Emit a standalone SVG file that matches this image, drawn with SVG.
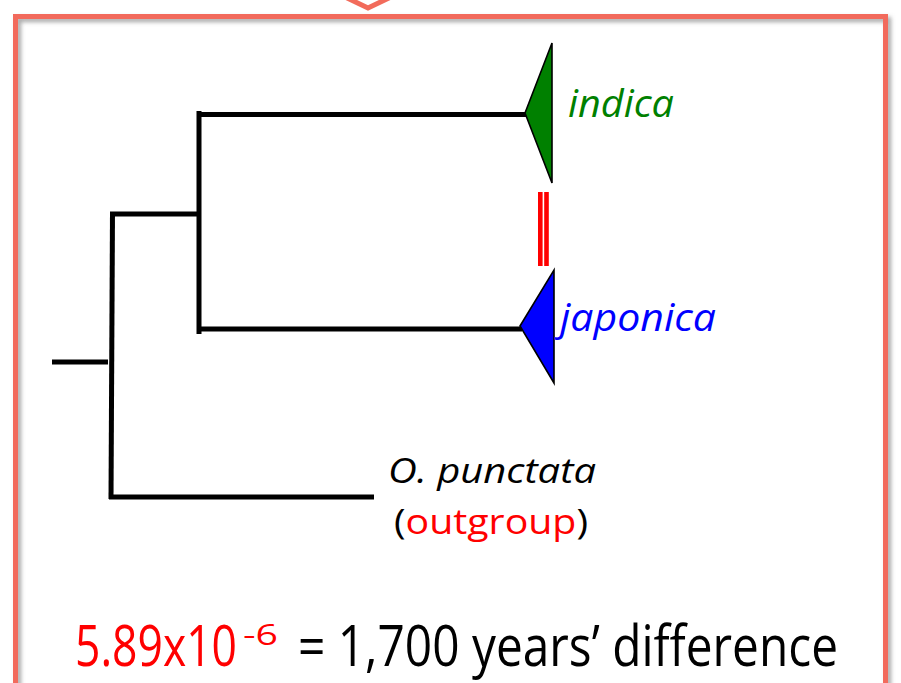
<svg xmlns="http://www.w3.org/2000/svg" width="901" height="683" viewBox="0 0 901 683">
  <style>
    .branch { stroke: #000; stroke-width: 5; fill: none; stroke-linecap: butt; }
    .clade { stroke: #000; stroke-width: 1.6; stroke-linejoin: miter; }
    .lbl { font-family: "Open Sans", "Noto Sans", "DejaVu Sans", sans-serif; }
    .it { font-style: italic; }
    .frame { fill: none; stroke: #F26B5B; stroke-width: 5; }
  </style>
  <defs>
    <filter id="shadow" x="-5%" y="-5%" width="110%" height="110%">
      <feDropShadow dx="3" dy="3" stdDeviation="2" flood-color="#808080" flood-opacity="0.7"/>
    </filter>
  </defs>

  <rect width="901" height="683" fill="#fff"/>

  <!-- callout frame with the tip of the arrow above it -->
  <g id="frame">
    <polyline points="343,-4 368,8 393,-4" fill="none" stroke="#F26B5B" stroke-width="5" stroke-linejoin="miter"/>
    <rect class="frame" x="15.5" y="16.5" width="870" height="720" filter="url(#shadow)"/>
  </g>

  <!-- tree branches -->
  <g id="connectors">
    <line class="branch" x1="52" y1="362" x2="108" y2="362"/>
    <line class="branch" x1="112.5" y1="212" x2="111" y2="499"/>
    <line class="branch" x1="110" y1="214" x2="199" y2="214"/>
    <line class="branch" x1="199" y1="111" x2="199" y2="334"/>
    <line class="branch" x1="197" y1="114.5" x2="527" y2="114.5"/>
    <line class="branch" x1="197" y1="329" x2="522" y2="329"/>
    <line class="branch" x1="109" y1="497" x2="374" y2="497"/>
  </g>

  <!-- divergence marker between the two clades -->
  <g id="divergence">
    <rect x="538" y="192" width="4.6" height="74" fill="#FF0000"/>
    <rect x="544.2" y="192" width="4.6" height="74" fill="#FF0000"/>
  </g>

  <g id="indica">
    <polygon class="clade" points="525,113 552,43 552,183" fill="#008000"/>
    <text class="lbl it" x="568" y="117" font-size="38" fill="#008000" textLength="106" lengthAdjust="spacingAndGlyphs">indica</text>
  </g>

  <g id="japonica">
    <polygon class="clade" points="520,326 554,270 554,383" fill="#0000FF"/>
    <text class="lbl it" x="560" y="331" font-size="38" fill="#0000FF" textLength="156" lengthAdjust="spacingAndGlyphs">japonica</text>
  </g>

  <g id="outgroup">
    <text class="lbl it" x="388" y="483" font-size="34" fill="#000" textLength="208" lengthAdjust="spacingAndGlyphs">O. punctata</text>
    <text class="lbl" x="394" y="534" font-size="34" fill="#000" textLength="194" lengthAdjust="spacingAndGlyphs">(<tspan fill="#FF0000">outgroup</tspan>)</text>
  </g>

  <g id="rate">
    <text class="lbl" x="75" y="666" font-size="56" fill="#FF0000" textLength="162" lengthAdjust="spacingAndGlyphs">5.89x10</text>
    <text class="lbl" x="243" y="645" font-size="30" fill="#FF0000" textLength="35" lengthAdjust="spacingAndGlyphs">-6</text>
    <text class="lbl" x="298" y="666" font-size="56" fill="#000" textLength="540" lengthAdjust="spacingAndGlyphs">= 1,700 years’ difference</text>
  </g>
</svg>
